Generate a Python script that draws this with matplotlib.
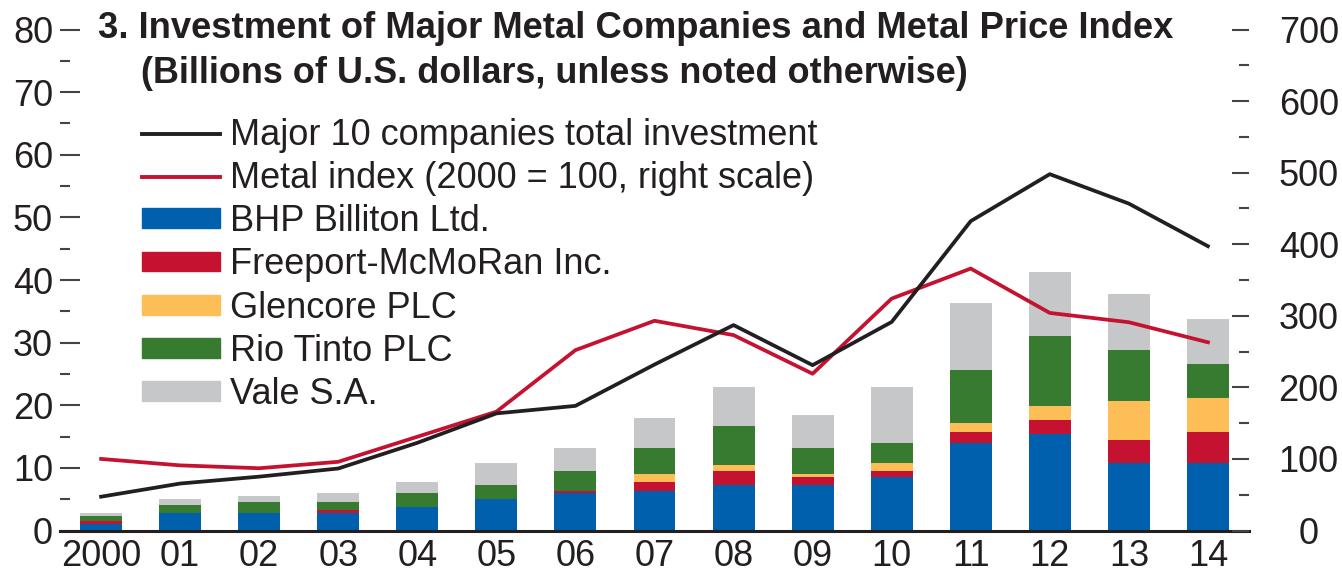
import numpy as np
import matplotlib
matplotlib.use('Agg')
import matplotlib.pyplot as plt
from matplotlib import font_manager
from matplotlib.lines import Line2D
from matplotlib.patches import Patch
from matplotlib.ticker import MultipleLocator

years = ['2000', '01', '02', '03', '04', '05', '06', '07', '08', '09', '10', '11', '12', '13', '14']

# billions of US dollars
bhp = [1.0, 2.8, 2.8, 2.8, 3.75, 5.0, 6.0, 6.3, 7.3, 7.3, 8.5, 14.0, 15.4, 10.8, 10.8]
freeport = [0.5, 0.0, 0.0, 0.47, 0.0, 0.0, 0.3, 1.45, 2.2, 1.25, 0.95, 1.75, 2.2, 3.65, 4.9]
glencore = [0.0, 0.0, 0.0, 0.0, 0.0, 0.0, 0.0, 1.25, 0.95, 0.5, 1.3, 1.45, 2.25, 6.2, 5.4]
rio = [0.85, 1.25, 1.75, 1.3, 2.25, 2.25, 3.2, 4.15, 6.2, 4.15, 3.2, 8.45, 11.2, 8.15, 5.45]
vale = [0.5, 0.95, 0.95, 1.45, 1.75, 3.5, 3.65, 4.8, 6.2, 5.25, 8.9, 10.7, 10.2, 8.9, 7.15]

total10 = [5.4, 7.5, 8.6, 9.9, 14.0, 18.7, 19.9, 26.5, 32.8, 26.4, 33.3, 49.4, 56.9, 52.2, 45.4]
metal_index = [100, 91, 87, 96, 131, 166, 252, 293, 273, 219, 324, 366, 304, 291, 263]

names = {f.name for f in font_manager.fontManager.ttflist}
narrow = 'Liberation Sans Narrow' if 'Liberation Sans Narrow' in names else 'Liberation Sans'
plt.rcParams['font.family'] = ['Liberation Sans', 'DejaVu Sans']

ink = '#231f20'
c_blue = '#0060ad'
c_red = '#c41230'
c_yel = '#fdbe57'
c_grn = '#367b2f'
c_gry = '#c6c7c8'

W, H = 1342, 575
fig = plt.figure(figsize=(W / 100, H / 100), dpi=100)
ax = fig.add_axes([60 / W, 1 - 530.5 / H, (1249 - 60) / W, (530.5 - 29.5) / H])

x = np.arange(len(years))
bw = 0.53
bottom = np.zeros(len(years))
for vals, col in [(bhp, c_blue), (freeport, c_red), (glencore, c_yel), (rio, c_grn), (vale, c_gry)]:
    ax.bar(x, vals, bw, bottom=bottom, color=col, linewidth=0)
    bottom += np.array(vals)

ax.set_xlim(-0.52, 14.52)
ax.set_ylim(0, 80)
ax.set_xticks(x)
ax.set_xticklabels(years)
ax.yaxis.set_major_locator(MultipleLocator(10))
ax.yaxis.set_minor_locator(MultipleLocator(5))
ax.tick_params(axis='x', length=0, pad=6, labelsize=26, labelcolor=ink)
ax.tick_params(axis='y', which='major', direction='in', length=14.4, width=1.5,
               color='#444444', pad=5, labelsize=26, labelcolor=ink)
ax.tick_params(axis='y', which='minor', direction='in', length=7.2, width=1.5, color='#444444')
for s in ['left', 'right', 'top']:
    ax.spines[s].set_visible(False)
ax.spines['bottom'].set_color(ink)
ax.spines['bottom'].set_linewidth(2.2)
ax.spines['bottom'].set_zorder(5)

# right scale: metal index
ax2 = ax.twinx()
ax2.set_ylim(0, 700)
ax2.plot(x, metal_index, color=c_red, lw=2.7, solid_joinstyle='round')
ax2.yaxis.set_major_locator(MultipleLocator(100))
ax2.yaxis.set_minor_locator(MultipleLocator(50))
ax2.tick_params(axis='y', which='major', direction='in', length=12.2, width=1.5,
                color='#444444', pad=43, labelsize=26, labelcolor=ink)
ax2.tick_params(axis='y', which='minor', direction='in', length=7, width=1.5, color='#444444')
for lab in ax2.get_yticklabels():
    lab.set_horizontalalignment('center')
for s in ax2.spines.values():
    s.set_visible(False)

# top layer: total investment, left scale
ax3 = ax.twinx()
ax3.set_ylim(0, 80)
ax3.plot(x, total10, color=ink, lw=2.7, solid_joinstyle='round')
ax3.set_yticks([])
for s in ax3.spines.values():
    s.set_visible(False)

handles = [Line2D([], [], color=ink, lw=2.8),
           Line2D([], [], color=c_red, lw=2.8),
           Patch(color=c_blue), Patch(color=c_red), Patch(color=c_yel),
           Patch(color=c_grn), Patch(color=c_gry)]
labels = ['Major 10 companies total investment',
          'Metal index (2000 = 100, right scale)',
          'BHP Billiton Ltd.', 'Freeport-McMoRan Inc.', 'Glencore PLC',
          'Rio Tinto PLC', 'Vale S.A.']
leg = ax3.legend(handles, labels, loc='upper left', bbox_to_anchor=(142 / W, 1 - 118 / H),
                 bbox_transform=fig.transFigure, frameon=False, fontsize=26,
                 handlelength=2.16, handleheight=0.47, handletextpad=0.28,
                 labelspacing=0.225, borderpad=0, borderaxespad=0)
for t in leg.get_texts():
    t.set_color(ink)

fig.text(98 / W, 1 - 38.3 / H, '3. Investment of Major Metal Companies and Metal Price Index',
         family=[narrow, 'DejaVu Sans'], weight='bold', fontsize=26.2, color=ink, va='baseline')
fig.text(141 / W, 1 - 82.5 / H, '(Billions of U.S. dollars, unless noted otherwise)',
         family=[narrow, 'DejaVu Sans'], weight='bold', fontsize=25.9, color=ink, va='baseline')

fig.savefig('out.png', dpi=100)
